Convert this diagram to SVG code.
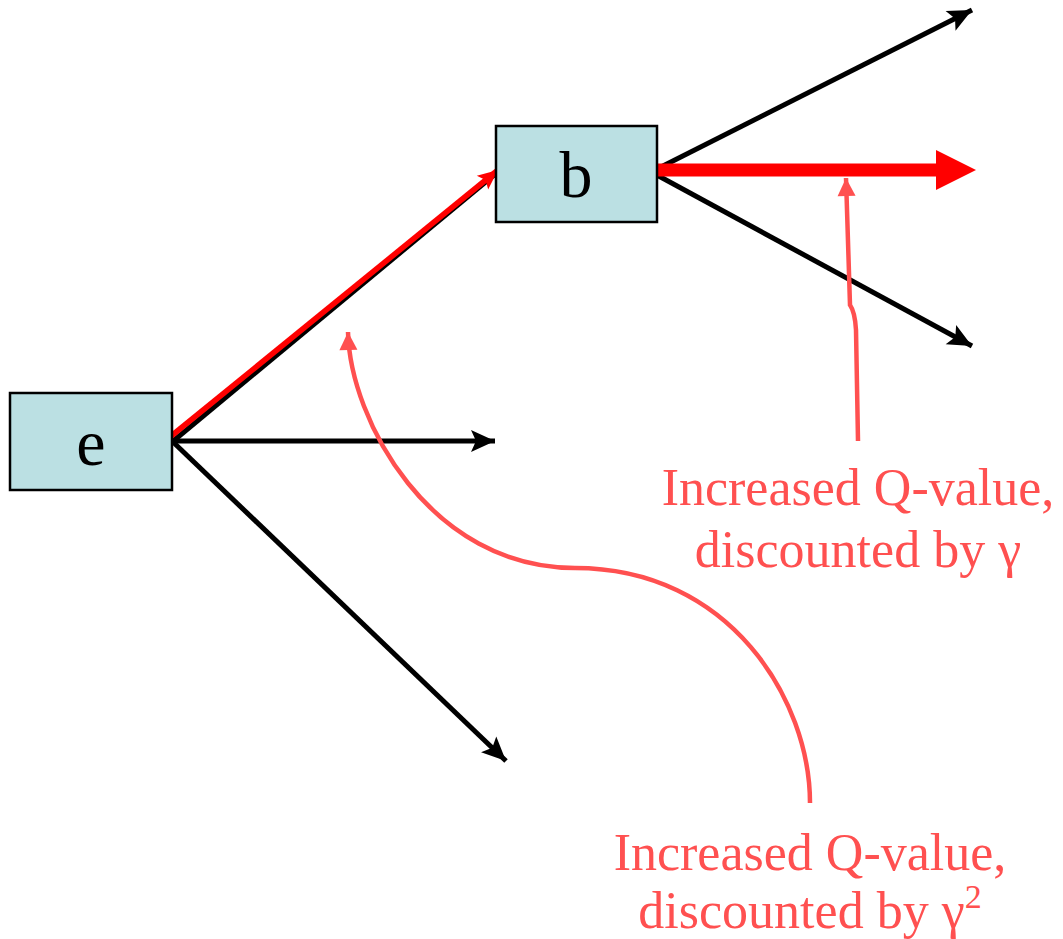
<svg xmlns="http://www.w3.org/2000/svg" width="1063" height="939" viewBox="0 0 1063 939">
<style>
.box{fill:#BBE0E3;stroke:#000;stroke-width:2.5}
.lbl{font-family:"Liberation Serif","Times New Roman",serif;fill:#000;font-size:66px;text-anchor:middle}
.note{font-family:"Liberation Serif","Times New Roman",serif;fill:#FF5050;font-size:52px;text-anchor:middle}
.blk{stroke:#000;stroke-width:5;fill:none}
.crv{stroke:#FF5050;stroke-width:4.5;fill:none}
</style>
<defs>
<marker id="ah" markerUnits="userSpaceOnUse" viewBox="-26 -12 28 24" markerWidth="28" markerHeight="24" refX="0" refY="0" orient="auto" overflow="visible">
<path d="M0,0 L-24,-11 L-19,0 L-24,11 Z" fill="#000"/>
</marker>
<marker id="ahr" markerUnits="userSpaceOnUse" viewBox="-22 -10 24 20" markerWidth="24" markerHeight="20" refX="0" refY="0" orient="auto" overflow="visible">
<path d="M0,0 L-20,-9 L-16,0 L-20,9 Z" fill="#F00"/>
</marker>
<marker id="ahc" markerUnits="userSpaceOnUse" viewBox="-20 -10 22 20" markerWidth="22" markerHeight="20" refX="0" refY="0" orient="auto" overflow="visible">
<path d="M0,0 L-18,-9 L-18,9 Z" fill="#FF5050"/>
</marker>
</defs>
<g id="connectors">
<line class="blk" x1="172" y1="441" x2="495" y2="441" marker-end="url(#ah)"/>
<line class="blk" x1="172" y1="441" x2="506" y2="761" marker-end="url(#ah)"/>
<line class="blk" x1="172" y1="442" x2="494" y2="175"/>
<line x1="170" y1="437" x2="498" y2="170" stroke="#F00" stroke-width="5.5" marker-end="url(#ahr)"/>
<line class="blk" x1="655" y1="170" x2="972" y2="10" marker-end="url(#ah)"/>
<line class="blk" x1="655" y1="174" x2="972" y2="346" marker-end="url(#ah)"/>
<line x1="651" y1="170" x2="938" y2="170" stroke="#F00" stroke-width="13"/>
<polygon points="936,150 976,170 936,190" fill="#F00"/>
<path class="crv" d="M858,441 L856,330 Q855,312 850,305 L846,178" marker-end="url(#ahc)"/>
<path class="crv" d="M810,803 C810,700 730,568 575,568 C430,568 350,420 348,332" marker-end="url(#ahc)"/>
</g>
<g id="node-b">
<rect class="box" x="496" y="126" width="161" height="96"/>
<text class="lbl" x="576" y="197">b</text>
</g>
<g id="node-e">
<rect class="box" x="10" y="393" width="162" height="97"/>
<text class="lbl" x="91" y="465">e</text>
</g>
<g id="note-gamma">
<text class="note" x="858" y="505">Increased Q-value,</text>
<text class="note" x="858" y="567">discounted by γ</text>
</g>
<g id="note-gamma2">
<text class="note" x="810" y="870">Increased Q-value,</text>
<text class="note" x="810" y="928">discounted by γ<tspan dy="-20" font-size="34">2</tspan></text>
</g>
</svg>
